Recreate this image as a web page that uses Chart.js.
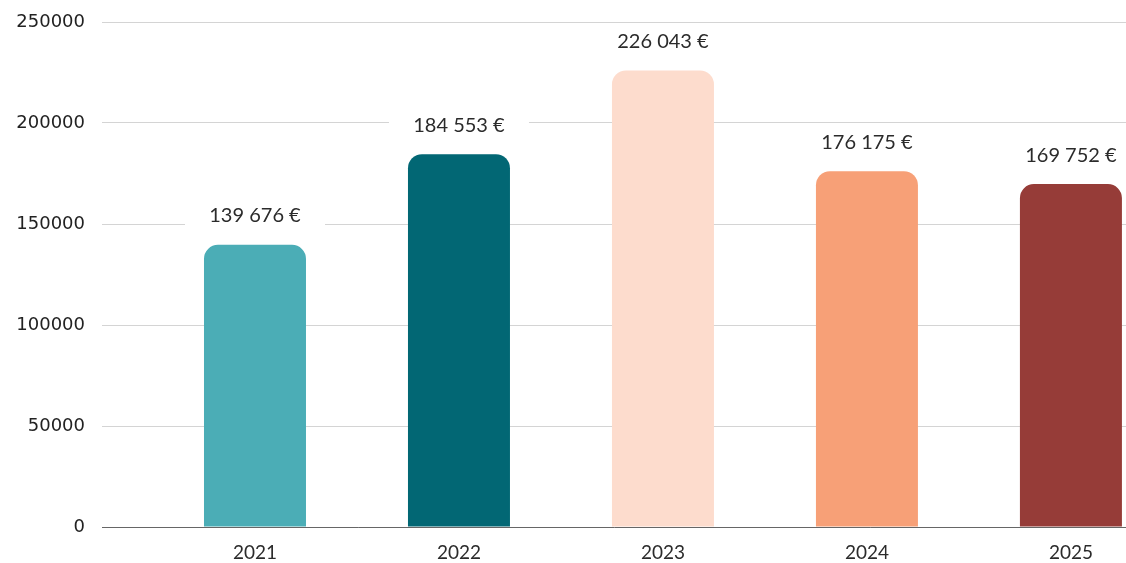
<!DOCTYPE html>
<html>
<head>
<meta charset="utf-8">
<script src="https://cdn.jsdelivr.net/npm/chart.js@4"></script>
<style>
  html, body { margin: 0; padding: 0; background: #fff; }
  #wrap { width: 1126px; height: 563px; }
</style>
</head>
<body>
<div id="wrap"><canvas id="ca_chart" width="1126" height="563"></canvas></div>
<script>
const years = ["2021", "2022", "2023", "2024", "2025"];
const amounts = [139676, 184553, 226043, 176175, 169752];
const barColors = ["#4badb6", "#026774", "#fddccd", "#f7a077", "#963c38"];
const yTicks = [0, 50000, 100000, 150000, 200000, 250000];

const cxt = document.getElementById("ca_chart");

const fmtEuro = (v) => String(v).replace(/\B(?=(\d{3})+(?!\d))/g, " ") + " €";

// labels above bars, with a white box hiding the grid lines
const valueLabels = {
  id: "valueLabels",
  afterDatasetsDraw(chart) {
    const ctx = chart.ctx;
    const meta = chart.getDatasetMeta(0);
    ctx.save();
    ctx.font = "20px Lato";
    ctx.textAlign = "center";
    ctx.textBaseline = "middle";
    meta.data.forEach((bar, i) => {
      const y = bar.y - 29;
      ctx.fillStyle = "#fff";
      ctx.fillRect(bar.x - 70, y - 14, 140, 28);
      ctx.fillStyle = "#2b2b2b";
      ctx.fillText(fmtEuro(amounts[i]), bar.x, y);
    });
    ctx.restore();
  },
};

new Chart(cxt, {
  type: "bar",
  data: {
    datasets: [
      {
        data: amounts.map((v, i) => ({ x: i, y: v })),
        backgroundColor: barColors,
        borderRadius: { topLeft: 14, topRight: 14 },
        borderSkipped: "bottom",
        barPercentage: 0.5,
        categoryPercentage: 1,
      },
    ],
  },
  options: {
    responsive: false,
    animation: false,
    layout: { padding: { top: 22, right: 0, left: 0, bottom: 0 } },
    plugins: { legend: { display: false }, tooltip: { enabled: false } },
    scales: {
      x: {
        type: "linear",
        offset: false,
        min: -0.75,
        max: 4.27,
        grid: { display: false },
        border: { display: true, color: "#666", width: 1 },
        ticks: {
          stepSize: 1,
          includeBounds: false,
          autoSkip: false,
          maxRotation: 0,
          padding: 6,
          color: "#2b2b2b",
          font: { family: "Lato", size: 19 },
          callback: (v) => (Number.isInteger(v) ? years[v] : ""),
        },
        afterFit: (scale) => { scale.height = 36; scale.paddingLeft = 0; scale.paddingRight = 0; },
      },
      y: {
        min: 0,
        max: 250000,
        afterBuildTicks: (scale) => { scale.ticks = yTicks.map((v) => ({ value: v })); },
        grid: { color: "#d4d4d4", drawTicks: false },
        border: { display: false },
        ticks: {
          padding: 17,
          color: "#222",
          font: { family: "DejaVu Sans", size: 18 },
          callback: (v) => String(v),
        },
        afterFit: (scale) => { scale.width = 102; scale.paddingTop = 0; scale.paddingBottom = 0; },
      },
    },
  },
  plugins: [valueLabels],
});
</script>
</body>
</html>
